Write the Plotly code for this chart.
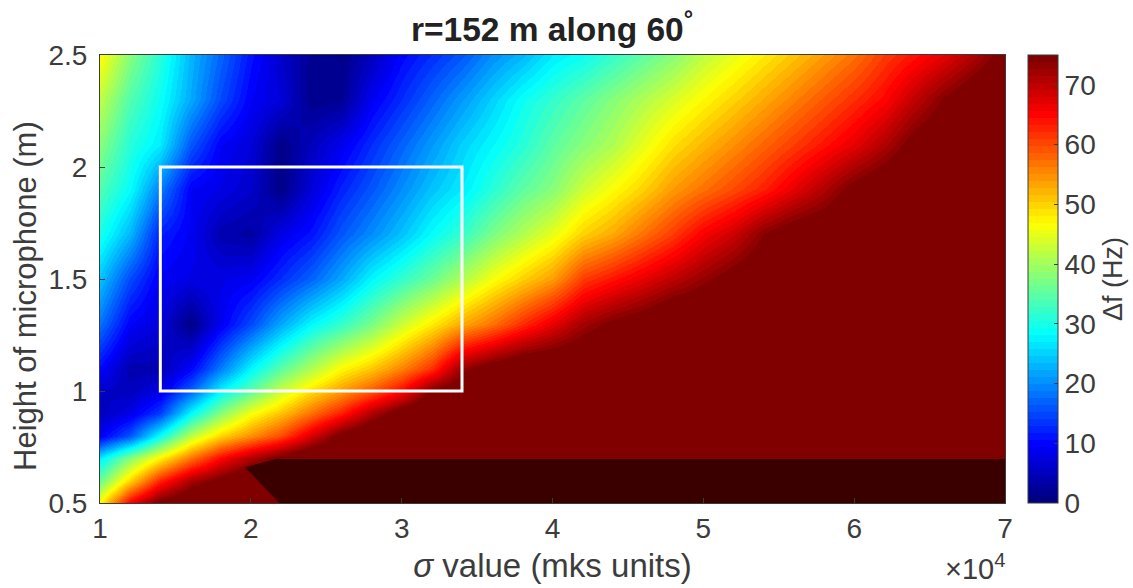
import plotly.graph_objects as go

x_nodes = [round(1 + 0.2 * i, 1) for i in range(31)]
y_nodes = [0.5, 0.6, 0.7, 0.8, 0.9, 1.0, 1.1, 1.3, 1.5, 1.7, 1.9, 2.1, 2.3, 2.5]

H = 80
row_05 = [47, 66, 76] + [H] * 28
row_06 = [36, 50, 63, 71.5, 76] + [H] * 26
row_07 = [27, 38, 47.5, 57, 65, 71, 76] + [H] * 24
row_08 = [9, 16, 29, 42, 50, 55, 60, 68, 76] + [H] * 22
row_09 = [5, 8, 14, 28, 38, 46, 51, 57, 63, 71, 77] + [H] * 20
row_10 = [6, 5, 8, 17, 28, 35, 43, 49, 54, 59, 65, 75, 78] + [H] * 18
row_11 = [10, 4, 4, 10, 19, 28, 35, 41, 47, 51, 56, 62, 73, 77] + [H] * 17
row_13 = [18, 9.5, 7, 1, 9, 15, 22, 28, 32, 37, 43, 48, 53, 57, 62, 67, 72, 75, 77] + [H] * 12
row_15 = [24, 15, 9, 8, 8, 9, 13, 17, 22, 28, 32, 36, 41, 46, 50, 54, 61, 64, 67, 70, 73, 76, 78] + [H] * 8
row_17 = [30, 23, 12, 9, 4, 3, 8, 11, 16, 20, 24, 28.5, 32, 37, 41, 45, 50, 53, 57, 61, 65.6, 69, 74, 77, 78] + [H] * 6
row_19 = [34, 28.5, 19, 9.4, 8, 6, 1, 7, 12, 16, 20, 24, 27, 31, 35, 38, 43, 46.5, 50, 54, 57, 60, 63, 67, 71, 75.5, 78] + [H] * 4
row_21 = [38, 31, 27, 16, 9.4, 7, 1, 5, 8.5, 13, 17, 21, 25, 28, 31, 35, 38, 41, 45, 49, 52, 55, 58, 61, 64, 67, 71, 76, 78] + [H] * 2
row_23 = [42, 34, 29, 22, 15, 9.4, 7, 1.5, 2, 9, 13, 17, 21, 25, 29, 32, 35, 38, 41, 44, 47, 50, 53, 56, 59, 62, 65, 70, 74.5, 78, 80]
row_25 = [47, 38, 31, 23, 17, 11, 6, 2, 1, 5, 10, 13, 16, 20, 23, 27, 29, 32, 35, 38, 42, 45, 48, 51, 54, 57, 61, 64, 67, 71, 76]
z_rows = [row_05, row_06, row_07, row_08, row_09, row_10, row_11, row_13, row_15, row_17, row_19, row_21, row_23, row_25]

band_x = [2.17, 7, 7, 2.19, 1.96, 2.17]
band_y = [0.696, 0.696, 0.5, 0.5, 0.66, 0.696]
box_x = [1.4, 3.4]
box_y = [1.0, 2.0]
cbar_ticks = [0, 10, 20, 30, 40, 50, 60, 70]
x_ticks = [1, 2, 3, 4, 5, 6, 7]
y_ticks = [0.5, 1, 1.5, 2, 2.5]
y_labels = ["0.5", "1", "1.5", "2", "2.5"]


def jet(t):
    r = min(max(min(4 * t - 1.5, -4 * t + 4.5), 0), 1)
    g = min(max(min(4 * t - 0.5, -4 * t + 3.5), 0), 1)
    b = min(max(min(4 * t + 0.5, -4 * t + 2.5), 0), 1)
    return f"rgb({round(r*255)},{round(g*255)},{round(b*255)})"


N = 64
scale = []
for i in range(N):
    c = jet(i / (N - 1))
    scale += [[i / N, c], [(i + 1) / N, c]]

FONT = "Liberation Sans"
INK = "#3c3c3c"

fig = go.Figure()
fig.add_trace(go.Heatmap(
    x=x_nodes, y=y_nodes, z=z_rows, zmin=0, zmax=75, zsmooth="best", colorscale=scale,
    hoverinfo="skip",
    colorbar=dict(
        x=928 / 905, xanchor="left", xpad=0, y=0.5, yanchor="middle", ypad=0, len=1,
        thickness=30, outlinecolor=INK, outlinewidth=1,
        tickvals=cbar_ticks, ticks="inside", ticklen=4, tickcolor=INK,
        tickfont=dict(family=FONT, size=28, color=INK),
        title=dict(text="Δf (Hz)", side="right", font=dict(family=FONT, size=27, color=INK)),
    ),
))
fig.add_trace(go.Scatter(
    x=band_x, y=band_y, mode="lines", fill="toself", fillcolor="#3a0000",
    line=dict(width=0), hoverinfo="skip", showlegend=False,
))
fig.add_shape(type="rect", x0=box_x[0], x1=box_x[1], y0=box_y[0], y1=box_y[1],
              line=dict(color="white", width=3))
fig.add_annotation(text="×10<sup>4</sup>", xref="paper", yref="paper", x=1.0, y=-0.187,
                   xanchor="right", yanchor="bottom", showarrow=False, xshift=2,
                   font=dict(family=FONT, size=29, color=INK))
fig.add_annotation(text="Height of microphone (m)", xref="paper", yref="paper",
                   x=0, y=0.5, yshift=-17, xshift=-75, textangle=-90, showarrow=False,
                   xanchor="center", yanchor="middle",
                   font=dict(family=FONT, size=31, color=INK))
fig.update_layout(
    width=1133, height=588, autosize=False,
    margin=dict(l=100, r=128, t=55, b=85, pad=0, autoexpand=False),
    paper_bgcolor="white", plot_bgcolor="white",
    title=dict(text="<b>r=152 m along 60<sup>°</sup></b>", x=552 / 1133, xanchor="center",
               y=0.95, yanchor="middle", font=dict(family=FONT, size=33.5, color="#222222")),
    xaxis=dict(range=[1, 7], tickvals=x_ticks, ticks="inside", ticklen=5, tickcolor=INK,
               showline=True, mirror=True, linecolor=INK, linewidth=1, showgrid=False, zeroline=False,
               tickfont=dict(family=FONT, size=28, color=INK),
               title=dict(text="<i>σ</i>\u00a0value (mks units)", standoff=11,
                          font=dict(family=FONT, size=33, color=INK))),
    yaxis=dict(range=[0.5, 2.5], tickvals=y_ticks, ticktext=y_labels, ticks="inside", ticklen=5, tickcolor=INK,
               ticklabelstandoff=6,
               showline=True, mirror=True, linecolor=INK, linewidth=1, showgrid=False, zeroline=False,
               tickfont=dict(family=FONT, size=28, color=INK)),
)
fig.write_html("out.html", post_script="document.body.style.margin='0';",
               config={"displayModeBar": False})
